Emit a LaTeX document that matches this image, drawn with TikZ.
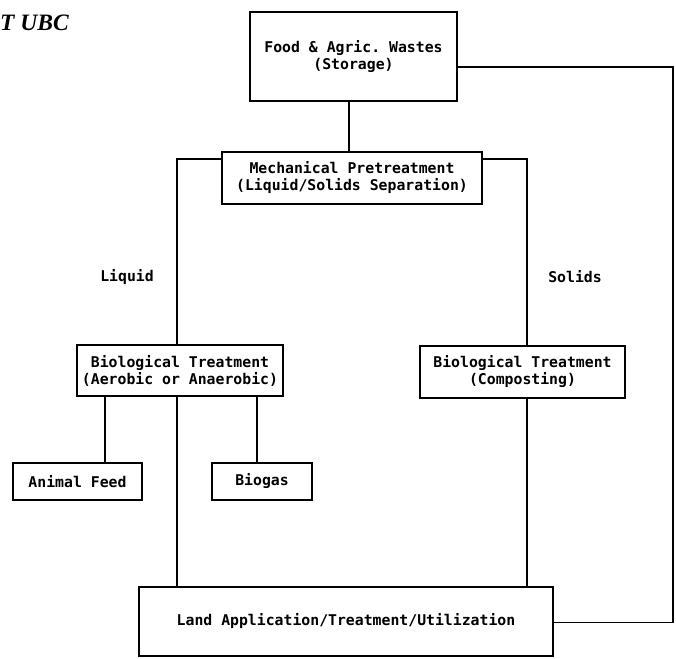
\documentclass[tikz,border=0pt]{standalone}
\usepackage{fontspec}
\setmonofont{DejaVu Sans Mono}
\newfontfamily\ubcfont{Liberation Serif}
\newcommand\diagfont{\ttfamily\bfseries\fontsize{14.8}{17}\selectfont}
\begin{document}
\begin{tikzpicture}[x=1pt,y=-1pt,
  box/.style={draw, line width=1.7pt, align=center, font=\diagfont, inner sep=0pt, anchor=center},
  conn/.style={line width=1.7pt},
  lbl/.style={font=\diagfont, inner sep=0pt}]
\useasboundingbox (0,0) rectangle (676,658);
\node[anchor=base west, font=\ubcfont\bfseries\itshape\fontsize{23.5}{24}\selectfont, inner sep=0pt] (ubc) at (0,31) {T UBC};

\node[box, minimum width=207pt, minimum height=89pt] (top) at (353.5,56.5) {Food \& Agric. Wastes\\(Storage)};
\node[box, minimum width=260pt, minimum height=52pt] (mech) at (352,178) {Mechanical Pretreatment\\(Liquid/Solids Separation)};
\node[box, minimum width=206pt, minimum height=51pt] (bioL) at (180,370.5) {Biological Treatment\\(Aerobic or Anaerobic)};
\node[box, minimum width=205pt, minimum height=52pt] (bioR) at (522.5,372) {Biological Treatment\\(Composting)};
\node[box, minimum width=129pt, minimum height=37pt] (feed) at (77.5,481.5) {Animal Feed};
\node[box, minimum width=100pt, minimum height=37pt] (biogas) at (262,481.5) {Biogas};
\node[box, minimum width=414pt, minimum height=69pt] (land) at (346,621.5) {Land Application/Treatment/Utilization};

\node[lbl] (liquid) at (127,277) {Liquid};
\node[lbl] (solids) at (575,277) {Solids};

\coordinate (xt) at (349,0);
\coordinate (xl) at (177,0);
\coordinate (xr) at (527,0);
\coordinate (xf) at (105,0);
\coordinate (xg) at (257,0);
\coordinate (xloop) at (673,0);

\draw[conn] (top.south -| xt) -- (mech.north -| xt);
\draw[conn] ([yshift=-8pt]mech.north west) -| (bioL.north -| xl);
\draw[conn] (bioL.south -| xl) -- (land.north -| xl);
\draw[conn] ([yshift=-8pt]mech.north east) -| (bioR.north -| xr);
\draw[conn] (bioR.south -| xr) -- (land.north -| xr);
\draw[conn] (bioL.south -| xf) -- (feed.north -| xf);
\draw[conn] (bioL.south -| xg) -- (biogas.north -| xg);
\draw[conn] ([yshift=-10.5pt]top.east) -| ([yshift=-1pt]land.east -| xloop) -- ([yshift=-1pt]land.east);
\end{tikzpicture}
\end{document}
